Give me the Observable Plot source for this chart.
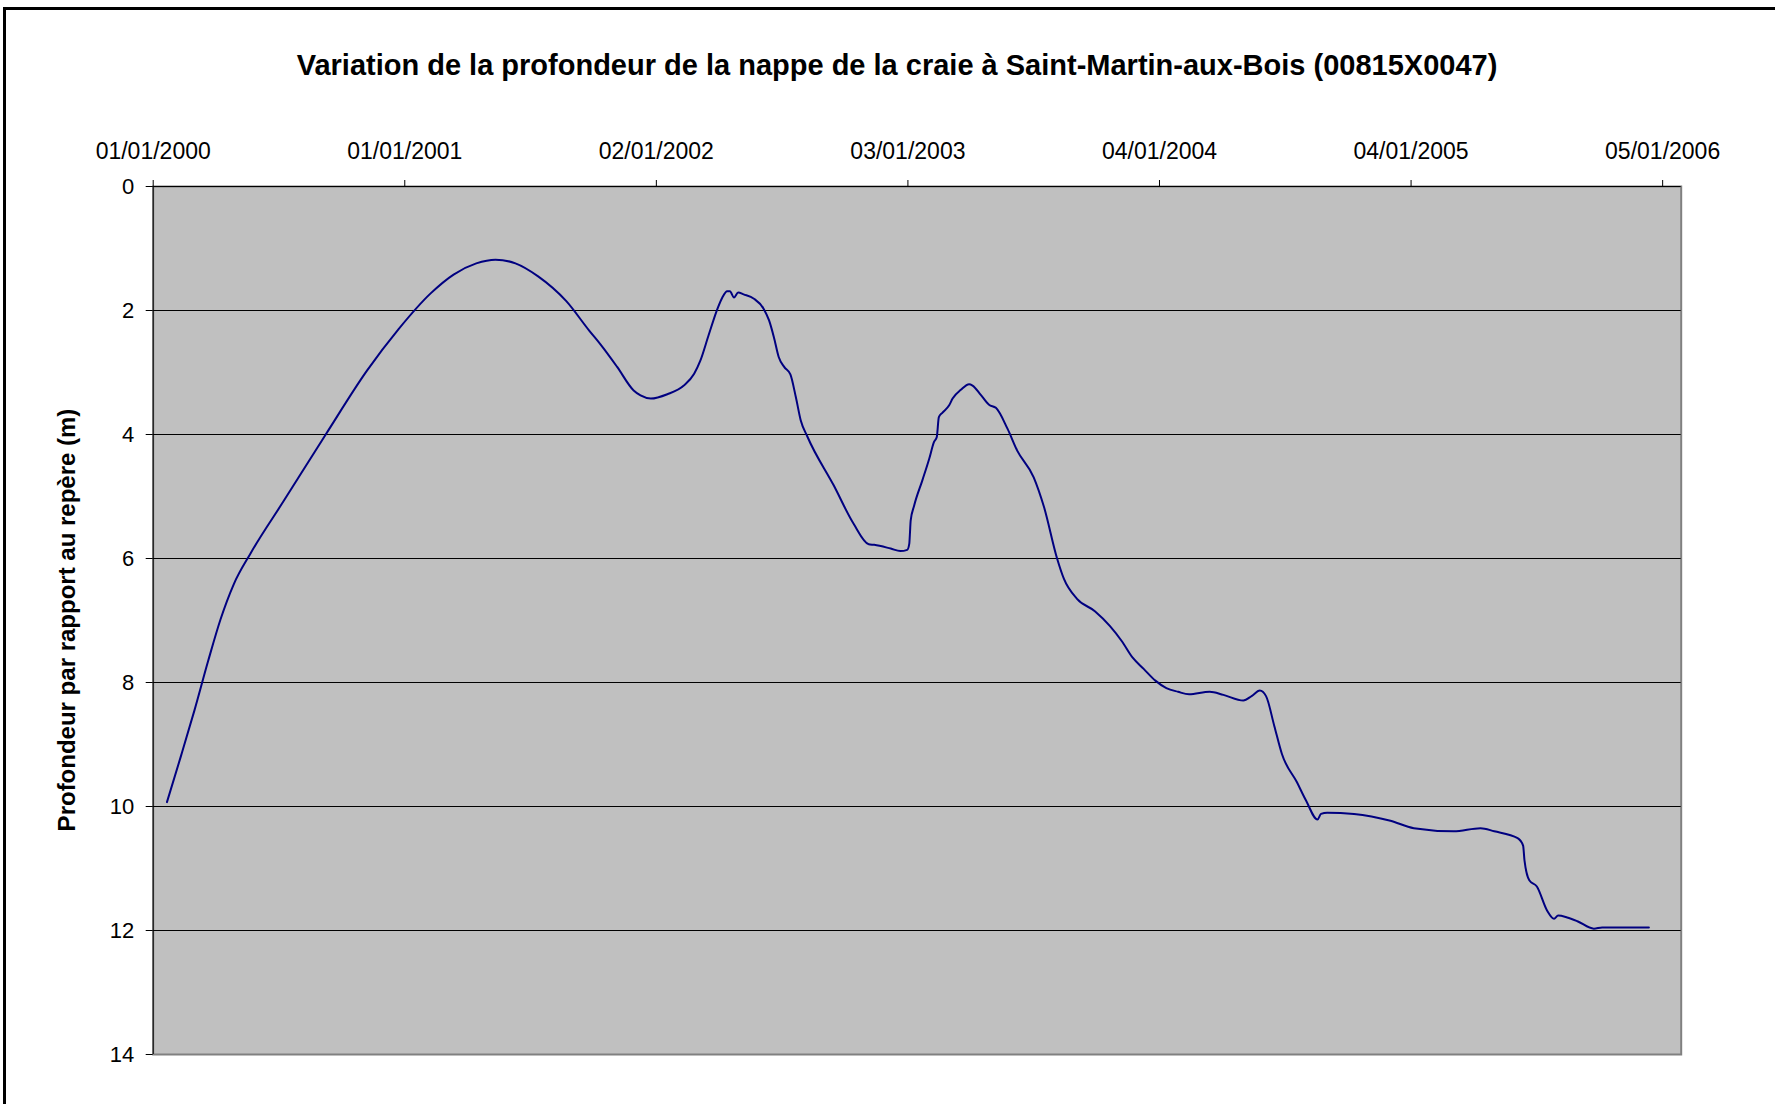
<!DOCTYPE html>
<html>
<head>
<meta charset="utf-8">
<script src="https://cdn.jsdelivr.net/npm/d3@7"></script>
<script src="https://cdn.jsdelivr.net/npm/@observablehq/plot@0.6"></script>
<style>
  html, body { margin: 0; padding: 0; background: #ffffff; }
  body { width: 1775px; height: 1104px; overflow: hidden; position: relative; font-family: "Liberation Sans", Arial, sans-serif; }
  #border { position: absolute; left: 3px; top: 7px; width: 1900px; height: 1300px; border: 3px solid #000; box-sizing: border-box; }
  #title { position: absolute; left: 0; top: 51px; width: 1794px; text-align: center; font-size: 29px; line-height: 29px; font-weight: bold; color: #000; white-space: nowrap; }
  #ytitle { position: absolute; left: 67px; top: 620px; width: 700px; margin-left: -350px; margin-top: -12px; text-align: center; font-size: 24px; line-height: 24px; font-weight: bold; color: #000; transform: rotate(-90deg); white-space: nowrap; }
  #chart { position: absolute; left: 0; top: 0; }
</style>
</head>
<body>
<div id="border"></div>
<div id="chart"></div>
<div id="title">Variation de la profondeur de la nappe de la craie à Saint-Martin-aux-Bois (00815X0047)</div>
<div id="ytitle">Profondeur par rapport au repère (m)</div>
<script>
// Tick labels of the date axis (dd/mm/yyyy), and axis limits
const xTickLabels = ["01/01/2000", "01/01/2001", "02/01/2002", "03/01/2003", "04/01/2004", "04/01/2005", "05/01/2006"];
const xDomainLabels = ["01/01/2000", "01/02/2006"];
const yTicks = [0, 2, 4, 6, 8, 10, 12, 14];
const yGrid = [2, 4, 6, 8, 10, 12];

// Measurements: days since 01/01/2000 and depth (m)
const dayOffset = [20, 40, 60, 80, 98, 117, 142, 190, 251, 311, 357, 404, 437, 470, 498, 527, 560, 601, 634, 651, 675,
  699, 709, 724, 748, 772, 787, 796, 808, 821, 828, 835, 839, 845, 851, 859, 874, 888, 896, 903, 910,
  918, 927, 935, 942, 952, 990, 1019, 1041, 1049, 1073, 1087, 1097, 1100, 1101, 1102, 1107, 1119, 1129, 1136, 1140,
  1143, 1148, 1158, 1163, 1175, 1187, 1192, 1204, 1216, 1226, 1243, 1257, 1281, 1296, 1315, 1325, 1344, 1370, 1392, 1409,
  1425, 1441, 1458, 1474, 1491, 1507, 1537, 1557, 1586, 1598, 1610, 1619, 1631, 1642, 1664, 1677, 1694, 1699, 1708, 1747, 1800,
  1834, 1892, 1931, 1951, 1985, 1993, 1995, 2002, 2013, 2028, 2038, 2044, 2057, 2072, 2096, 2108, 2176];
const depth = [9.93, 9.20, 8.45, 7.65, 6.98, 6.42, 5.91, 5.07, 4.00, 2.97, 2.30, 1.72, 1.42, 1.24, 1.18, 1.24, 1.45, 1.85, 2.32, 2.55, 2.91,
  3.29, 3.37, 3.42, 3.35, 3.21, 3.02, 2.81, 2.40, 1.97, 1.79, 1.69, 1.69, 1.79, 1.71, 1.74, 1.81, 1.97, 2.16, 2.43, 2.75,
  2.91, 3.03, 3.40, 3.77, 4.04, 4.82, 5.44, 5.77, 5.78, 5.84, 5.88, 5.86, 5.76, 5.58, 5.39, 5.15, 4.74, 4.39, 4.12, 4.04,
  3.72, 3.65, 3.53, 3.42, 3.28, 3.19, 3.21, 3.36, 3.52, 3.57, 3.91, 4.26, 4.69, 5.17, 6.00, 6.33, 6.65, 6.85, 7.09, 7.33,
  7.60, 7.78, 7.97, 8.09, 8.15, 8.19, 8.15, 8.20, 8.29, 8.22, 8.13, 8.22, 8.70, 9.15, 9.61, 9.90, 10.21, 10.12, 10.10, 10.12, 10.23,
  10.35, 10.40, 10.35, 10.40, 10.51, 10.63, 10.87, 11.19, 11.29, 11.68, 11.81, 11.76, 11.79, 11.85, 11.97, 11.95, 11.95];

const parse = d3.utcParse("%d/%m/%Y");
const fmt = d3.utcFormat("%d/%m/%Y");
const xStart = parse(xDomainLabels[0]);
const xEnd = parse(xDomainLabels[1]);
const tickDates = xTickLabels.map(parse);
const data = dayOffset.map((d, i) => ({date: d3.utcDay.offset(xStart, d), depth: depth[i]}));

const chart = Plot.plot({
  width: 1775,
  height: 1104,
  marginLeft: 152.7,
  marginTop: 186,
  marginRight: 94.3,
  marginBottom: 50,
  style: {fontFamily: "'Liberation Sans', Arial, sans-serif", background: "transparent", color: "#000", overflow: "visible"},
  x: {type: "utc", domain: [xStart, xEnd]},
  y: {domain: [0, 14], reverse: true},
  marks: [
    Plot.frame({fill: "#c0c0c0", stroke: "#808080", strokeWidth: 2}),
    Plot.ruleY(yGrid, {stroke: "#000", strokeWidth: 1}),
    Plot.ruleY([0], {stroke: "#000", strokeWidth: 1}),
    Plot.ruleX([xStart], {stroke: "#000", strokeWidth: 1}),
    Plot.axisX({anchor: "top", ticks: tickDates, tickFormat: fmt, tickSize: 7, tickPadding: 21, fontSize: 23, label: null}),
    Plot.axisY({anchor: "left", ticks: yTicks, tickSize: 7, tickPadding: 12, fontSize: 22, label: null}),
    Plot.line(data, {x: "date", y: "depth", stroke: "#000080", strokeWidth: 2, curve: "monotone-x"})
  ]
});
document.getElementById("chart").appendChild(chart);
</script>
</body>
</html>
